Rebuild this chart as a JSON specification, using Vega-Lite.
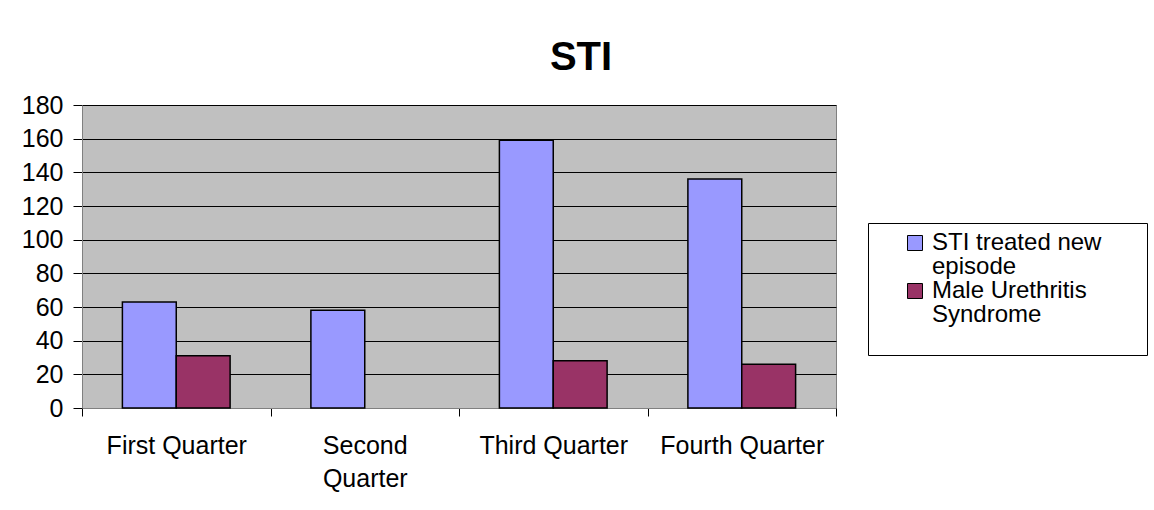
{
  "$schema": "https://vega.github.io/schema/vega-lite/v6.json",
  "autosize": {"type": "none"},
  "padding": {"left": 82, "top": 105, "right": 318, "bottom": 102},
  "width": 754,
  "height": 303,
  "background": "white",
  "title": {
    "text": "STI",
    "fontSize": 40,
    "fontWeight": "bold",
    "font": "Liberation Sans",
    "color": "black",
    "anchor": "middle",
    "frame": "group",
    "dx": 122,
    "offset": 15
  },
  "data": {
    "values": [
      {"quarter": "First Quarter", "series": "STI treated new episode", "value": 63},
      {"quarter": "First Quarter", "series": "Male Urethritis Syndrome", "value": 31},
      {"quarter": "Second Quarter", "series": "STI treated new episode", "value": 58},
      {"quarter": "Third Quarter", "series": "STI treated new episode", "value": 159},
      {"quarter": "Third Quarter", "series": "Male Urethritis Syndrome", "value": 28},
      {"quarter": "Fourth Quarter", "series": "STI treated new episode", "value": 136},
      {"quarter": "Fourth Quarter", "series": "Male Urethritis Syndrome", "value": 26}
    ]
  },
  "mark": {"type": "bar", "stroke": "black", "strokeWidth": 1.5},
  "encoding": {
    "x": {
      "field": "quarter",
      "type": "nominal",
      "sort": ["First Quarter", "Second Quarter", "Third Quarter", "Fourth Quarter"],
      "scale": {"paddingInner": 0, "paddingOuter": 0},
      "axis": {
        "title": null,
        "labelAngle": 0,
        "tickBand": "extent",
        "tickSize": 8,
        "tickColor": "black",
        "domainColor": "#808080",
        "labelFontSize": 25,
        "labelColor": "black",
        "labelPadding": 17,
        "labelLineHeight": 33,
        "labelBaseline": "top",
        "labelLimit": 200,
        "labelExpr": "datum.value == 'Second Quarter' ? ['Second', 'Quarter'] : datum.label"
      }
    },
    "xOffset": {
      "field": "series",
      "type": "nominal",
      "sort": ["STI treated new episode", "Male Urethritis Syndrome"],
      "scale": {"paddingInner": 0, "paddingOuter": 0.75}
    },
    "y": {
      "field": "value",
      "type": "quantitative",
      "scale": {"domain": [0, 180], "nice": false},
      "axis": {
        "title": null,
        "values": [0, 20, 40, 60, 80, 100, 120, 140, 160, 180],
        "grid": true,
        "gridColor": "black",
        "gridOpacity": 1,
        "gridWidth": 1,
        "domainColor": "#808080",
        "tickColor": "black",
        "tickSize": 9,
        "labelPadding": 10,
        "labelFontSize": 25,
        "labelColor": "black"
      }
    },
    "color": {
      "field": "series",
      "type": "nominal",
      "scale": {
        "domain": ["STI treated new episode", "Male Urethritis Syndrome"],
        "range": ["#9999FF", "#993366"]
      },
      "legend": {
        "title": "\u00a0",
        "titleOrient": "right",
        "titleFontSize": 68,
        "titlePadding": 38,
        "titleBaseline": "top",
        "orient": "none",
        "legendX": 786,
        "legendY": 118,
        "strokeColor": "black",
        "fillColor": "white",
        "padding": 8,
        "symbolOffset": 27,
        "symbolType": "square",
        "symbolSize": 225,
        "symbolStrokeColor": "black",
        "symbolStrokeWidth": 1,
        "labelFontSize": 24,
        "labelColor": "black",
        "labelOffset": 5,
        "labelLimit": 300,
        "labelBaseline": "top",
        "rowPadding": -7,
        "labelExpr": "datum.label == 'STI treated new episode' ? ['STI treated new', 'episode'] : ['Male Urethritis', 'Syndrome']",
        "encoding": {"labels": {"lineHeight": {"value": 24}, "dy": {"value": -12}}}
      }
    }
  },
  "config": {
    "font": "Liberation Sans",
    "view": {"fill": "#C0C0C0", "stroke": "#808080", "strokeWidth": 1}
  }
}
